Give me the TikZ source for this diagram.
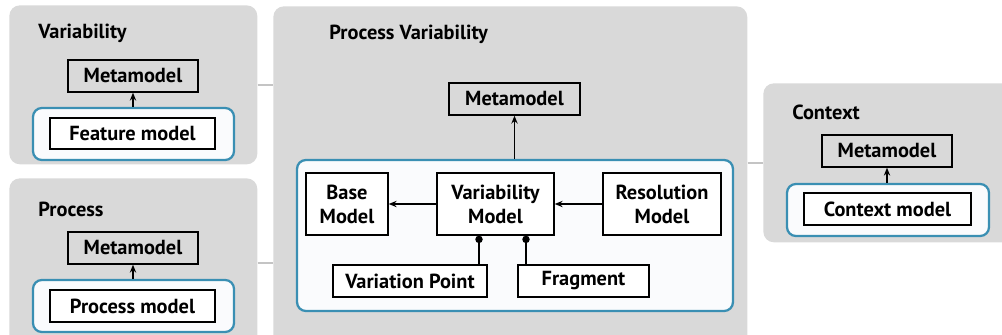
\documentclass[tikz,border=0pt]{standalone}
\usepackage{fontspec}
\setmainfont{PT Sans}
\usetikzlibrary{positioning}
\usetikzlibrary{arrows.meta}
\definecolor{panelgray}{HTML}{D9D9D9}
\definecolor{linkgray}{HTML}{C4C4C4}
\definecolor{groupblue}{HTML}{3A8FB3}
\definecolor{groupfill}{HTML}{FAFBFD}
\tikzset{
    panel/.style = {rectangle, rounded corners=6pt, fill=panelgray, anchor=north west, inner sep=0pt},
    ptitle/.style = {anchor=west, font=\bfseries\fontsize{11.6}{13.6}\selectfont, inner sep=0pt},
    group/.style = {rectangle, rounded corners=5pt, draw=groupblue, line width=1.3pt, fill=groupfill},
    mbox/.style = {rectangle, draw=black, line width=0.8pt, align=center, font=\bfseries\fontsize{11.6}{13.6}\selectfont, inner sep=0pt},
    wbox/.style = {mbox, fill=white},
    link/.style = {-, line width=1.2pt, linkgray},
    arr/.style = {-{Stealth[length=4.5pt,width=3.6pt]}, line width=0.8pt, black},
    dotarr/.style = {-{Circle[length=4.2pt]}, line width=0.8pt, black}
}
\begin{document}
\begin{tikzpicture}[x=0.02cm,y=-0.02cm]
\clip (0,0) rectangle (1002,335);
%
\node[panel,minimum width=4.96cm,minimum height=3.18cm] at (9,5) (p1) {};
\node[panel,minimum width=4.96cm,minimum height=3.40cm] at (9,178) (p2) {};
\node[panel,minimum width=9.48cm,minimum height=6.80cm] at (273,6) (p3) {};
\node[panel,minimum width=5.00cm,minimum height=3.18cm] at (763,83) (p4) {};
%
\draw[link] (p1.east) -- (p1.east -| p3.west);
\draw[link] (p2.east) -- (p2.east -| p3.west);
\draw[link] (p3.east |- p4.west) -- (p4.west);
%
\node[ptitle] at (38,33) (t1) {Variability};
\node[ptitle] at (38,209) (t2) {Process};
\node[ptitle] at (329,34) (t3) {Process Variability};
\node[ptitle] at (792,112) (t4) {Context};
%
% variability
\node[mbox,minimum width=2.60cm,minimum height=0.64cm] at (133,76) (meta1) {Metamodel};
\node[group,minimum width=4.02cm,minimum height=1.04cm] at (133.5,134) (g1) {};
\node[wbox,minimum width=3.30cm,minimum height=0.62cm] at (132.5,133.5) (feat) {Feature model};
\draw[arr] (g1.north -| meta1.south) -- (meta1.south);
%
% process
\node[mbox,minimum width=2.60cm,minimum height=0.64cm] at (133,248) (meta2) {Metamodel};
\node[group,minimum width=4.02cm,minimum height=1.04cm] at (133.5,306) (g2) {};
\node[wbox,minimum width=3.30cm,minimum height=0.64cm] at (132.5,306) (proc) {Process model};
\draw[arr] (g2.north -| meta2.south) -- (meta2.south);
%
% process variability
\node[mbox,minimum width=2.62cm,minimum height=0.64cm] at (514.5,99) (meta3) {Metamodel};
\node[group,minimum width=8.72cm,minimum height=3.02cm] at (515,235.5) (g3) {};
\node[wbox,minimum width=1.64cm,minimum height=1.24cm] at (347,204) (base) {Base\\Model};
\node[wbox,minimum width=2.34cm,minimum height=1.24cm] at (495.5,204) (varm) {Variability\\Model};
\node[wbox,minimum width=2.36cm,minimum height=1.24cm] at (662,204) (resm) {Resolution\\Model};
\node[wbox,minimum width=3.08cm,minimum height=0.64cm] at (410,281) (vpoint) {Variation Point};
\node[wbox,minimum width=2.62cm,minimum height=0.64cm] at (583.5,281) (frag) {Fragment};
\draw[arr] (g3.north -| meta3.south) -- (meta3.south);
\draw[arr] (varm) -- (base);
\draw[arr] (resm) -- (varm);
\draw[dotarr] (vpoint.north -| 479,0) -- (varm.south -| 479,0);
\draw[dotarr] (frag.north -| 526,0) -- (varm.south -| 526,0);
%
% context
\node[mbox,minimum width=2.60cm,minimum height=0.64cm] at (887,151) (meta4) {Metamodel};
\node[group,minimum width=4.04cm,minimum height=1.04cm] at (888,210) (g4) {};
\node[wbox,minimum width=3.34cm,minimum height=0.64cm] at (887.5,209) (ctx) {Context model};
\draw[arr] (g4.north -| meta4.south) -- (meta4.south);

\end{tikzpicture}
\end{document}
